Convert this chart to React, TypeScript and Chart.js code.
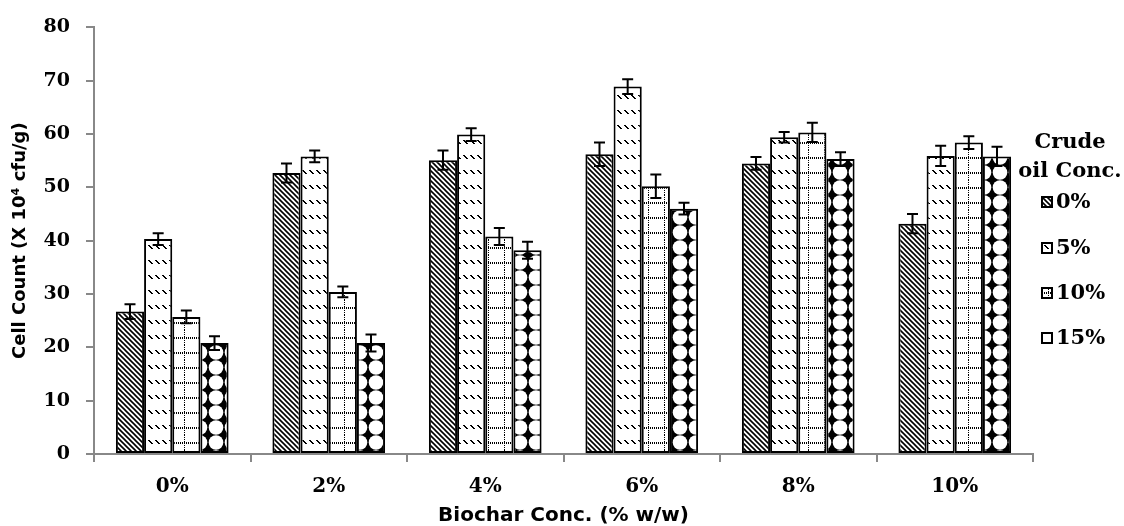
import React, { useEffect, useRef } from "react";
import { Chart, registerables } from "chart.js";

Chart.register(...registerables);

// ---- data ----
const categories = ["0%", "2%", "4%", "6%", "8%", "10%"];
const seriesLabels = ["0%", "5%", "10%", "15%"];
const crude0 = [26.7, 52.7, 55.1, 56.2, 54.5, 43.2];
const crude5 = [40.3, 55.8, 59.9, 68.9, 59.4, 55.9];
const crude10 = [25.7, 30.4, 40.8, 50.2, 60.3, 58.4];
const crude15 = [20.8, 20.8, 38.2, 46.0, 55.3, 55.8];
const err0 = [1.4, 1.8, 1.8, 2.2, 1.2, 1.8];
const err5 = [1.1, 1.1, 1.2, 1.4, 1.0, 1.9];
const err10 = [1.2, 1.0, 1.6, 2.2, 1.8, 1.2];
const err15 = [1.3, 1.6, 1.6, 1.1, 1.3, 1.8];
const yTicks = [0, 10, 20, 30, 40, 50, 60, 70, 80];
const legendTitle = ["Crude", "oil Conc."];
const xTitle = "Biochar Conc. (% w/w)";
const yTitle = "Cell Count (X 10\u2074 cfu/g)";

const seriesValues = [crude0, crude5, crude10, crude15];
const seriesErrors = [err0, err5, err10, err15];

function makePattern(kind: number): CanvasPattern | string {
  const c = document.createElement("canvas");
  const g = c.getContext("2d");
  if (!g) return "#fff";
  if (kind === 0) {
    c.width = 5; c.height = 5;
    g.fillStyle = "#fff"; g.fillRect(0, 0, 5, 5);
    g.strokeStyle = "#000"; g.lineWidth = 1.6;
    g.beginPath();
    g.moveTo(-1, -1); g.lineTo(6, 6);
    g.moveTo(-1, 4); g.lineTo(1, 6);
    g.moveTo(4, -1); g.lineTo(6, 1);
    g.stroke();
  } else if (kind === 1) {
    c.width = 7; c.height = 15;
    g.fillStyle = "#fff"; g.fillRect(0, 0, 7, 15);
    g.fillStyle = "#000";
    for (let k = 0; k < 4; k++) {
      g.fillRect(1 + k, 5 + k, 1, 1);
      g.fillRect(2 + k, 5 + k, 1, 1);
    }
  } else if (kind === 2) {
    c.width = 16; c.height = 15;
    g.fillStyle = "#fff"; g.fillRect(0, 0, 16, 15);
    g.fillStyle = "#000";
    for (let x = 0; x < 16; x += 2) g.fillRect(x, 7, 1, 2);
    for (let y = 0; y < 15; y += 2) g.fillRect(8, y, 1, 1);
  } else {
    c.width = 16; c.height = 15;
    g.fillStyle = "#000"; g.fillRect(0, 0, 16, 15);
    g.fillStyle = "#fff";
    g.beginPath();
    g.arc(8, 7.5, 7.3, 0, Math.PI * 2);
    g.fill();
  }
  const p = g.createPattern(c, "repeat");
  return p || "#fff";
}

const errorBarPlugin = {
  id: "errorBars",
  afterDatasetsDraw(chart: any) {
    const ctx = chart.ctx;
    const yScale = chart.scales.y;
    ctx.save();
    ctx.strokeStyle = "#000";
    ctx.lineWidth = 2;
    chart.data.datasets.forEach((ds: any, i: number) => {
      const meta = chart.getDatasetMeta(i);
      const errs = seriesErrors[i];
      meta.data.forEach((bar: any, j: number) => {
        const v = ds.data[j];
        const e = errs[j];
        const yT = yScale.getPixelForValue(v + e);
        const yB = yScale.getPixelForValue(v - e);
        const x = bar.x;
        ctx.beginPath();
        ctx.moveTo(x, yT); ctx.lineTo(x, yB);
        ctx.moveTo(x - 5.5, yT); ctx.lineTo(x + 5.5, yT);
        ctx.moveTo(x - 5.5, yB); ctx.lineTo(x + 5.5, yB);
        ctx.stroke();
      });
    });
    ctx.restore();
  },
};

const legendPlugin = {
  id: "sideLegend",
  afterDraw(chart: any) {
    const ctx = chart.ctx;
    ctx.save();
    ctx.fillStyle = "#000";
    ctx.font = "bold 21px 'DejaVu Serif'";
    ctx.textAlign = "center";
    ctx.textBaseline = "middle";
    const cx = 1070;
    legendTitle.forEach((t, i) => ctx.fillText(t, cx, 143 + i * 29));
    const ys = [202, 248, 293, 338];
    ctx.textAlign = "left";
    chart.data.datasets.forEach((ds: any, i: number) => {
      const y = ys[i];
      ctx.fillStyle = ds.backgroundColor;
      ctx.fillRect(1042, y - 5, 10, 10);
      ctx.strokeStyle = "#000";
      ctx.lineWidth = 2;
      ctx.strokeRect(1042, y - 5, 10, 10);
      ctx.fillStyle = "#000";
      ctx.fillText(seriesLabels[i], 1056, y + 1);
    });
    ctx.restore();
  },
};

export default function App() {
  const ref = useRef<HTMLCanvasElement | null>(null);
  useEffect(() => {
    if (!ref.current) return;
    const datasets = seriesValues.map((vals, i) => ({
      label: seriesLabels[i],
      data: vals,
      backgroundColor: makePattern(i) as any,
      borderColor: "#000",
      borderWidth: 2,
      borderSkipped: false as any,
      categoryPercentage: 0.72,
      barPercentage: 1.0,
    }));
    const chart = new Chart(ref.current, {
      type: "bar",
      data: { labels: categories, datasets },
      options: {
        responsive: false,
        animation: false,
        layout: { padding: { top: 23, right: 91, left: 10, bottom: 0 } },
        plugins: { legend: { display: false }, tooltip: { enabled: false } },
        scales: {
          x: {
            afterFit: (s: any) => { s.height = 72; },
            grid: { drawOnChartArea: false, drawTicks: true, tickLength: 8, color: "#888", lineWidth: 2, offset: true },
            border: { display: true, color: "#888", width: 2 },
            ticks: { color: "#000", padding: 13, font: { family: "DejaVu Serif", weight: "bold", size: 20 } },
            title: {
              display: true, text: xTitle, color: "#000",
              padding: { top: 8, bottom: 0 },
              font: { family: "DejaVu Sans", weight: "bold", size: 20, lineHeight: 1.0 },
            },
          },
          y: {
            min: 0, max: 80,
            afterFit: (s: any) => { s.width = 84; },
            afterBuildTicks: (s: any) => { s.ticks = yTicks.map((v) => ({ value: v })); },
            grid: { drawOnChartArea: false, drawTicks: true, tickLength: 8, color: "#888", lineWidth: 2 },
            border: { display: true, color: "#888", width: 2 },
            ticks: { color: "#000", padding: 16, font: { family: "DejaVu Serif", weight: "bold", size: 19 } },
            title: {
              display: true, text: yTitle, color: "#000",
              padding: { top: 0, bottom: 10 },
              font: { family: "DejaVu Sans", weight: "bold", size: 18, lineHeight: 1.2 },
            },
          },
        },
      },
      plugins: [errorBarPlugin, legendPlugin],
    });
    return () => chart.destroy();
  }, []);
  return (
    <div style={{ position: "absolute", left: 0, top: 0, width: 1124, height: 526, background: "#fff" }}>
      <canvas ref={ref} width={1124} height={526} style={{ display: "block" }} />
    </div>
  );
}
